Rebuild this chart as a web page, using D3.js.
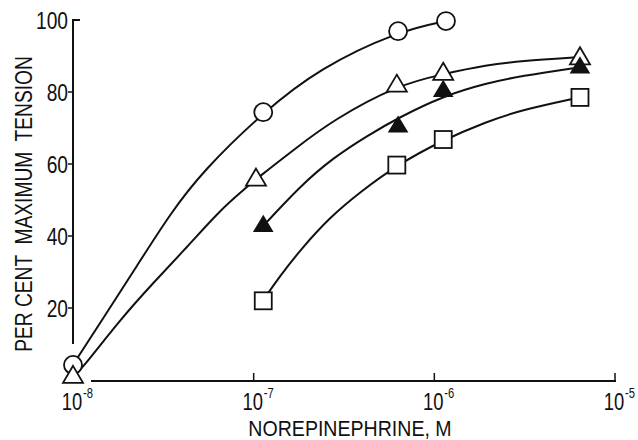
<!DOCTYPE html>
<html>
<head>
<meta charset="utf-8">
<script src="https://cdn.jsdelivr.net/npm/d3@7"></script>
<style>
  body { margin: 0; background: #fff; }
  svg { display: block; }
  text { white-space: pre; }
</style>
</head>
<body>
<div id="chart"></div>
<script>
// axis ticks
const xTicks = [1e-8, 1e-7, 1e-6, 1e-5];
const xTickExp = ['-8', '-7', '-6', '-5'];
const yTicks = [20, 40, 60, 80, 100];

// measured points: [norepinephrine M, per cent max tension]
const circlePts = [[1e-8, 4.2], [1.13e-7, 74.4], [6.3e-7, 96.9], [1.16e-6, 99.7]];
const openTriPts = [[1e-8, 1], [1.03e-7, 55.8], [6.2e-7, 81.9], [1.12e-6, 85.2], [6.4e-6, 89.5]];
const filledTriPts = [[1.13e-7, 43], [6.3e-7, 70.6], [1.12e-6, 80.5], [6.4e-6, 87]];
const squarePts = [[1.13e-7, 22], [6.2e-7, 59.7], [1.12e-6, 66.8], [6.4e-6, 78.5]];

// hand drawn curves
const circleCurve = [[1e-8, 4.2], [1.47e-8, 17.2], [2.26e-8, 31.7], [3.44e-8, 46.1], [5.24e-8, 58.1],
    [1.13e-7, 74.4], [2.33e-7, 86.7], [6.3e-7, 96.9], [1.16e-6, 99.7]];
const openTriCurve = [[1e-8, 0.8], [1.14e-8, 3.6], [1.82e-8, 16.7], [2.77e-8, 26.9], [4.28e-8, 36.9],
    [6.51e-8, 47.2], [9.19e-8, 53.6], [1.03e-7, 55.8], [1.74e-7, 64.7], [2.75e-7, 72.2],
    [6.21e-7, 81.9], [1.12e-6, 85.0], [1.96e-6, 87.5], [2.98e-6, 88.6], [6.4e-6, 89.7]];
const filledTriCurve = [[1.13e-7, 42.8], [1.81e-7, 53.9], [2.75e-7, 61.7], [4.24e-7, 67.8],
    [6.3e-7, 72.8], [1.12e-6, 78.9], [1.96e-6, 82.5], [2.98e-6, 84.4], [6.4e-6, 86.9]];
const squareCurve = [[1.13e-7, 22.2], [1.4e-7, 28.9], [1.81e-7, 36.1], [2.65e-7, 45.3], [3.88e-7, 52.2],
    [6.21e-7, 59.7], [1.12e-6, 66.7], [1.96e-6, 71.8], [2.98e-6, 74.9], [6.4e-6, 78.5]];

const width = 638, height = 440;
const ink = '#111';
const font = '"Liberation Sans", Arial, sans-serif';

const svg = d3.select('#chart').append('svg')
    .attr('width', width)
    .attr('height', height)
    .style('background', '#fff');

const x = d3.scaleLog().domain([1e-8, 1e-5]).range([73, 615]);
const y = d3.scaleLinear().domain([0, 100]).range([380, 20]);

// narrow text helper (lettering in the figure is tall and narrow)
function label(g, tx, ty, txt, size, anchor, rotate, squeeze = 0.8) {
    return g.append('text')
        .attr('transform', `translate(${tx},${ty})` + (rotate ? ` rotate(${rotate})` : '') + ` scale(${squeeze},1)`)
        .attr('text-anchor', anchor)
        .attr('font-family', font)
        .attr('font-size', size)
        .attr('fill', ink)
        .text(txt);
}

// Y axis
const yAxis = svg.append('g').attr('class', 'y-axis');
yAxis.append('line')
    .attr('x1', x(1e-8)).attr('x2', x(1e-8))
    .attr('y1', y(100)).attr('y2', y(10))
    .attr('stroke', ink).attr('stroke-width', 2);
yAxis.append('line') // small cap at the top
    .attr('x1', x(1e-8) - 1).attr('x2', x(1e-8) + 7)
    .attr('y1', y(100)).attr('y2', y(100))
    .attr('stroke', ink).attr('stroke-width', 2);
yTicks.filter(d => d < 100).forEach(d => {
    yAxis.append('line')
        .attr('x1', x(1e-8) - 5).attr('x2', x(1e-8))
        .attr('y1', y(d)).attr('y2', y(d))
        .attr('stroke', ink).attr('stroke-width', 1.5);
});
yTicks.forEach(d => {
    label(yAxis, x(1e-8) - 5, y(d) + 8.5, d, 24, 'end');
});
label(yAxis, 32, 204, 'PER CENT  MAXIMUM  TENSION', 24, 'middle', -90);

// X axis
const xAxis = svg.append('g').attr('class', 'x-axis');
xAxis.append('line')
    .attr('x1', 91).attr('x2', x(1e-5) + 1)
    .attr('y1', y(0) + 1).attr('y2', y(0) + 1)
    .attr('stroke', ink).attr('stroke-width', 2);
xTicks.slice(1).forEach(d => {
    xAxis.append('line')
        .attr('x1', x(d)).attr('x2', x(d))
        .attr('y1', y(0) + 2).attr('y2', y(0) - 7)
        .attr('stroke', ink).attr('stroke-width', 1.5);
});
xTicks.forEach((d, i) => {
    label(xAxis, x(d) - 1, 410, '10', 23, 'middle');
    label(xAxis, x(d) + 10, 398, xTickExp[i], 14, 'start');
});
label(xAxis, 350, 436, 'NOREPINEPHRINE, M', 22, 'middle', 0, 0.89);

// curves
const line = d3.line()
    .x(d => x(d[0]))
    .y(d => y(d[1]))
    .curve(d3.curveBasis);

const curves = svg.append('g').attr('class', 'curves');
[circleCurve, openTriCurve, filledTriCurve, squareCurve].forEach(c => {
    curves.append('path')
        .attr('d', line(c))
        .attr('fill', 'none')
        .attr('stroke', ink)
        .attr('stroke-width', 2);
});

// markers
const tri = 'M0,-10.5L10,6.5L-10,6.5Z';
const marks = svg.append('g').attr('class', 'markers');

marks.selectAll('circle').data(circlePts).enter().append('circle')
    .attr('cx', d => x(d[0])).attr('cy', d => y(d[1])).attr('r', 9)
    .attr('fill', '#fff').attr('stroke', ink).attr('stroke-width', 1.8);

marks.selectAll('path.open').data(openTriPts).enter().append('path')
    .attr('class', 'open')
    .attr('d', tri)
    .attr('transform', d => `translate(${x(d[0])},${y(d[1])})`)
    .attr('fill', '#fff').attr('stroke', ink).attr('stroke-width', 1.8)
    .attr('stroke-linejoin', 'miter');

marks.selectAll('path.filled').data(filledTriPts).enter().append('path')
    .attr('class', 'filled')
    .attr('d', 'M0,-9L9,6L-9,6Z')
    .attr('transform', d => `translate(${x(d[0])},${y(d[1])})`)
    .attr('fill', ink).attr('stroke', ink).attr('stroke-width', 1.5);

marks.selectAll('rect').data(squarePts).enter().append('rect')
    .attr('x', d => x(d[0]) - 8.5).attr('y', d => y(d[1]) - 8.5)
    .attr('width', 17).attr('height', 17)
    .attr('fill', '#fff').attr('stroke', ink).attr('stroke-width', 1.8);
</script>
</body>
</html>
